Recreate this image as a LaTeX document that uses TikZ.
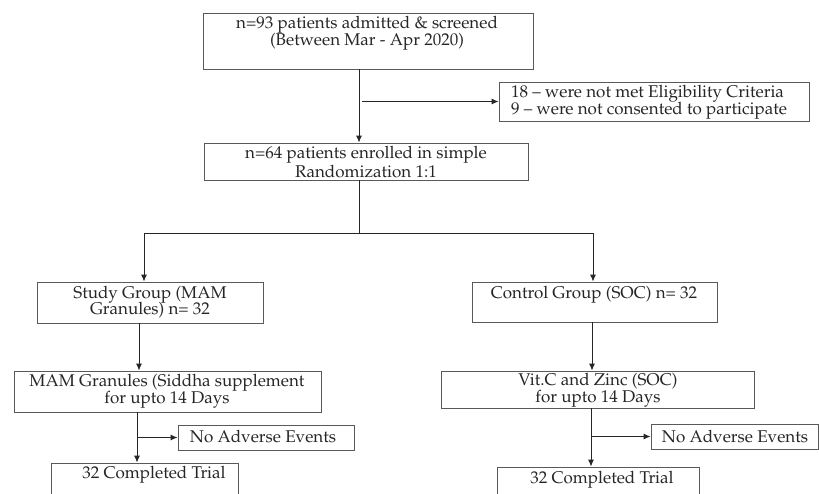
\documentclass[tikz,border=0pt]{standalone}
\usepackage[T1]{fontenc}
\usepackage{mathpazo}
\usetikzlibrary{arrows.meta}
\begin{document}
\begin{tikzpicture}[x=1pt,y=-1pt,
  box/.style={draw=black!65,line width=0.9pt,inner sep=0pt},
  txt/.style={inner sep=0pt,font=\fontsize{17}{17}\selectfont,text=black!85},
  conn/.style={draw=black!85,line width=0.9pt},
  arr/.style={conn,-{Latex[length=7pt,width=6pt]}}]
\useasboundingbox (0,0) rectangle (819,493);
\clip (0,0) rectangle (819,493);
\fill[white] (0,0) rectangle (819,493);
% boxes
\node[box,minimum width=330,minimum height=56] (A) at (368,41) {};
\node[box,minimum width=310,minimum height=39] (E) at (654,101.5) {};
\node[box,minimum width=324,minimum height=37] (B) at (366,161.5) {};
\node[box,minimum width=226,minimum height=41] (L1) at (150,302.5) {};
\node[box,minimum width=245,minimum height=40] (R1) at (594.5,302) {};
\node[box,minimum width=307,minimum height=41] (L2) at (167.5,391.5) {};
\node[box,minimum width=313,minimum height=37] (R2) at (597.5,389.5) {};
\node[box,minimum width=176,minimum height=25] (LN) at (266,437.5) {};
\node[box,minimum width=167,minimum height=25] (RN) at (734.5,436.5) {};
\node[box,minimum width=187,minimum height=60] (LC) at (144.5,493) {};
\node[box,minimum width=202,minimum height=60] (RC) at (598,497) {};
% texts
\node[txt] (tA1) at (367,25) {n=93 patients admitted \& screened};
\node[txt] (tA2) at (367,42) {(Between Mar - Apr 2020)};
\node[txt,anchor=west] (tE1) at (511,94) {18 -- were not met Eligibility Criteria};
\node[txt,anchor=west] (tE2) at (511,111) {9 -- were not consented to participate};
\node[txt] (tB1) at (366,155) {n=64 patients enrolled in simple};
\node[txt] (tB2) at (366,172) {Randomization 1:1};
\node[txt] (tL11) at (150,294.5) {Study Group (MAM};
\node[txt] (tL12) at (150,310.5) {Granules) n= 32};
\node[txt] (tR1) at (594,295) {Control Group (SOC) n= 32};
\node[txt] (tL21) at (167,383) {MAM Granules (Siddha supplement};
\node[txt] (tL22) at (167,400) {for upto 14 Days};
\node[txt] (tR21) at (598,381.5) {Vit.C and Zinc (SOC)};
\node[txt] (tR22) at (598,398.5) {for upto 14 Days};
\node[txt] (tLN) at (263,437) {No Adverse Events};
\node[txt] (tRN) at (735,437) {No Adverse Events};
\node[txt] (tLC) at (154,475) {32 Completed Trial};
\node[txt] (tRC) at (602,480) {32 Completed Trial};
% connectors
\coordinate (xa) at (359,0);
\coordinate (cE) at (362,101.5);
\coordinate (spl) at (144,233);
\coordinate (spm) at (359,233);
\coordinate (spr) at (593,233);
\coordinate (xl) at (139,0);
\coordinate (xl2) at (137,0);
\coordinate (xr) at (592,0);
\coordinate (xr2) at (591,0);
\draw[arr] (xa |- A.south) -- (xa |- B.north);
\draw[arr] (cE) -- (E.west);
\draw[conn] (xa |- B.south) -- (spm);
\draw[conn] (spl) -- (spr);
\draw[arr] (spl) -- (spl |- L1.north);
\draw[arr] (spr) -- (spr |- R1.north);
\draw[arr] (xl |- L1.south) -- (xl |- L2.north);
\draw[arr] (xr |- R1.south) -- (xr |- R2.north);
\draw[arr] (xl2 |- L2.south) -- (xl2 |- LC.north);
\draw[arr] (xl2 |- LN.west) -- (LN.west);
\draw[arr] (xr2 |- R2.south) -- (xr2 |- RC.north);
\draw[arr] (xr2 |- RN.west) -- (RN.west);
\end{tikzpicture}
\end{document}
